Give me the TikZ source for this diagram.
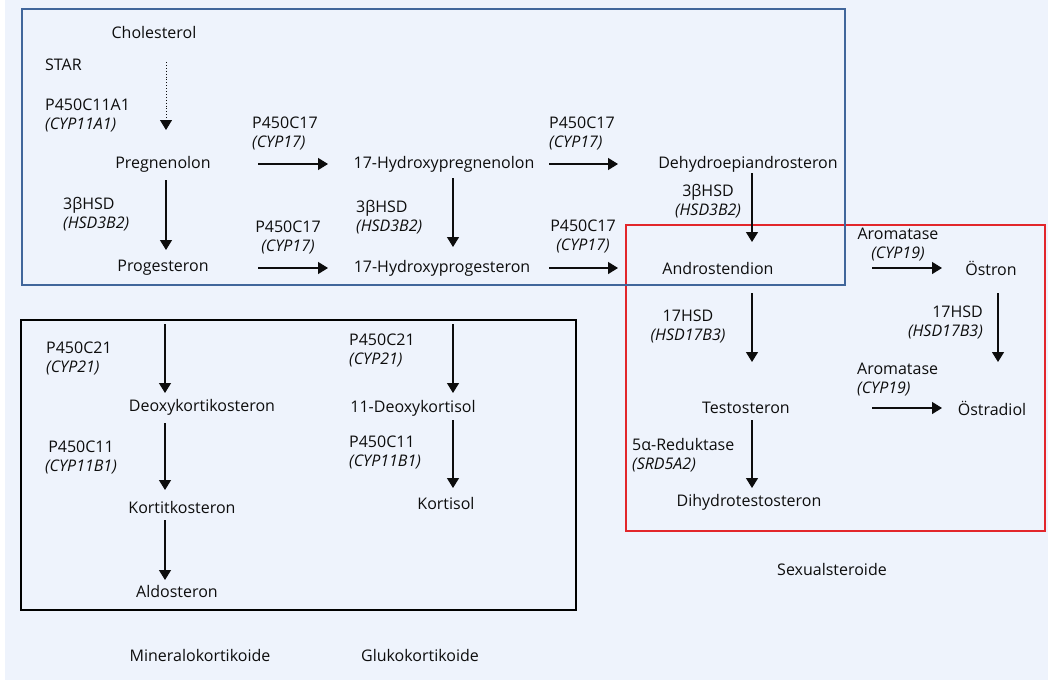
\documentclass[tikz,border=0pt]{standalone}
\usepackage{fontspec}
\setmainfont{Open Sans}
\usetikzlibrary{arrows.meta}

\definecolor{pagebg}{HTML}{EEF3FC}
\definecolor{boxblue}{HTML}{41669B}
\definecolor{boxred}{HTML}{E2262B}
\definecolor{ink}{HTML}{0D0D0D}

\begin{document}
\begin{tikzpicture}[x=1pt, y=-1pt,
    every node/.style={text=ink, inner sep=0pt, font=\fontsize{16}{19}\selectfont},
    enzyme/.style={align=left},
    conv/.style={draw=ink, line width=1.3pt, -{Triangle[width=12pt,length=10pt]}},
    gaps/.style 2 args={shorten <=#1pt, shorten >=#2pt},
    frame/.style={line width=2.6pt}]

    % page background
    \useasboundingbox (0,0) rectangle (1048,680);
    \fill[pagebg] (5,0) rectangle (1048,680);

    % group frames
    \draw[frame, boxred] (626,225) rectangle (1045,531);
    \draw[frame, boxblue] (22,9) rectangle (845,285);
    \draw[frame, black] (21,320) rectangle (576,610);

    % steroids
    \node (chol) at (154,32) {Cholesterol};
    \node (preg) at (163,164) {Pregnenolon};
    \node (prog) at (163,268) {Progesteron};
    \node (ohpreg) at (444,164) {17-Hydroxypregnenolon};
    \node (ohprog) at (442,268) {17-Hydroxyprogesteron};
    \node (dhea) at (748,164) {Dehydroepiandrosteron};
    \node (andro) at (718,268) {Androstendion};
    \node (oestron) at (991,268) {Östron};
    \node (testo) at (746,408) {Testosteron};
    \node (oestradiol) at (992,408) {Östradiol};
    \node (dht) at (749,502) {Dihydrotestosteron};
    \node (deoxy) at (202,407) {Deoxykortikosteron};
    \node (cortico) at (182,507) {Kortitkosteron};
    \node (aldo) at (177,591) {Aldosteron};
    \node (deoxycort) at (413,408) {11-Deoxykortisol};
    \node (cortisol) at (446,503) {Kortisol};

    % enzymes
    \node[anchor=west] (star) at (45,65) {STAR};
    \node[enzyme, anchor=west] (scc) at (45,115) {P450C11A1\\\textit{(CYP11A1)}};
    \node[enzyme, anchor=west] (lyaseA) at (252,133) {P450C17\\\textit{(CYP17)}};
    \node[enzyme, anchor=west] (lyaseB) at (549,133) {P450C17\\\textit{(CYP17)}};
    \node[enzyme, anchor=west] (hsdA) at (63,214) {3βHSD\\\textit{(HSD3B2)}};
    \node[align=center] (lyaseC) at (288,237) {P450C17\\\textit{(CYP17)}};
    \node[enzyme, anchor=west] (hsdB) at (356,217) {3βHSD\\\textit{(HSD3B2)}};
    \node[align=center] (lyaseD) at (583,236) {P450C17\\\textit{(CYP17)}};
    \node[align=center] (hsdC) at (708,201) {3βHSD\\\textit{(HSD3B2)}};
    \node[align=center] (aromA) at (898,245) {Aromatase\\\textit{(CYP19)}};
    \node[align=right, anchor=east] (hsdD) at (983,322) {17HSD\\\textit{(HSD17B3)}};
    \node[enzyme, anchor=west] (aromB) at (857,380) {Aromatase\\\textit{(CYP19)}};
    \node[align=center] (hsdE) at (688,326) {17HSD\\\textit{(HSD17B3)}};
    \node[enzyme, anchor=west] (red) at (632,455) {5α-Reduktase\\\textit{(SRD5A2)}};
    \node[enzyme, anchor=west] (hydA) at (46,358) {P450C21\\\textit{(CYP21)}};
    \node[align=center] (hydB) at (81,457) {P450C11\\\textit{(CYP11B1)}};
    \node[enzyme, anchor=west] (hydC) at (349,350) {P450C21\\\textit{(CYP21)}};
    \node[enzyme, anchor=west] (hydD) at (349,452) {P450C11\\\textit{(CYP11B1)}};

    % group names
    \node (mineral) at (200,655) {Mineralokortikoide};
    \node (gluco) at (420,655) {Glukokortikoide};
    \node (sexual) at (832,569) {Sexualsteroide};

    % conversions
    \draw[conv, line width=0.9pt, dotted, gaps={30}{34}] ([xshift=12pt]chol.center) -- ([xshift=3pt]preg.center);
    \draw[conv, gaps={95}{116}] (preg.center) -- (ohpreg.center);
    \draw[conv, gaps={105}{130}] (ohpreg.center) -- (dhea.center);
    \draw[conv, gaps={16}{18}] ([xshift=3pt]preg.center) -- ([xshift=3pt]prog.center);
    \draw[conv, gaps={95}{114}] (prog.center) -- (ohprog.center);
    \draw[conv, gaps={14}{21}] ([xshift=9pt]ohpreg.center) -- ([xshift=11pt]ohprog.center);
    \draw[conv, gaps={107}{100}] (ohprog.center) -- (andro.center);
    \draw[conv, gaps={9}{26}] ([xshift=4pt]dhea.center) -- ([xshift=34pt]andro.center);
    \draw[conv, gaps={154}{49}] (andro.center) -- (oestron.center);
    \draw[conv, gaps={25}{46}] ([xshift=7pt]oestron.center) -- ([xshift=6pt]oestradiol.center);
    \draw[conv, gaps={25}{46}] ([xshift=34pt]andro.center) -- ([xshift=6pt]testo.center);
    \draw[conv, gaps={126}{50}] (testo.center) -- (oestradiol.center);
    \draw[conv, gaps={12}{14}] ([xshift=6pt]testo.center) -- ([xshift=3pt]dht.center);
    \draw[conv, gaps={56}{14}] ([xshift=2pt]prog.center) -- ([xshift=-37pt]deoxy.center);
    \draw[conv, gaps={16}{17}] ([xshift=-37pt]deoxy.center) -- ([xshift=-17pt]cortico.center);
    \draw[conv, gaps={13}{11}] ([xshift=-17pt]cortico.center) -- ([xshift=-12pt]aldo.center);
    \draw[conv, gaps={56}{15}] ([xshift=11pt]ohprog.center) -- ([xshift=40pt]deoxycort.center);
    \draw[conv, gaps={12}{15}] ([xshift=40pt]deoxycort.center) -- ([xshift=7pt]cortisol.center);

\end{tikzpicture}
\end{document}
